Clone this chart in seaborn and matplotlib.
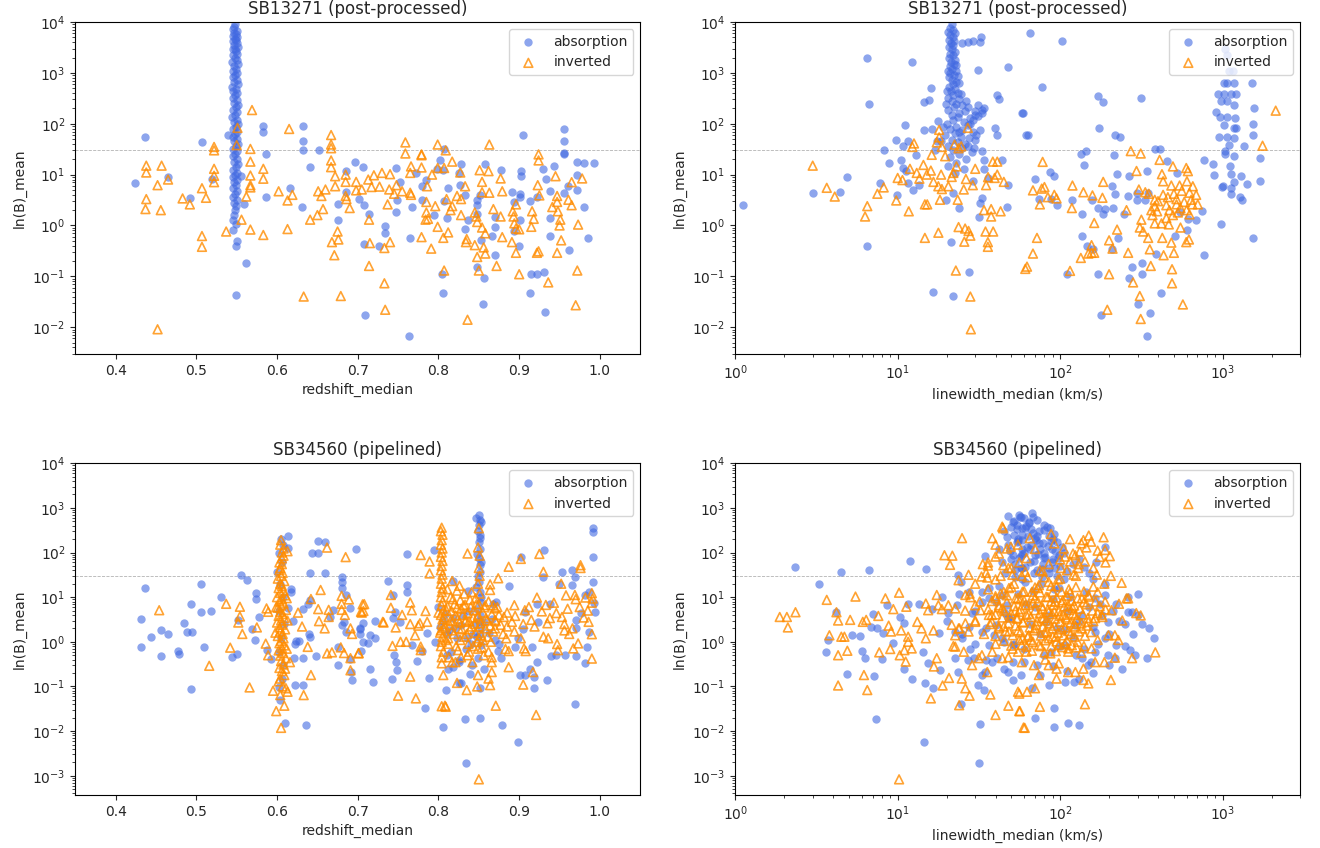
import numpy as np
import pandas as pd
import matplotlib
matplotlib.use("Agg")
import matplotlib.pyplot as plt
import seaborn as sns

# ---------------- SB13271 (post-processed): ln(B) vs redshift ----------------
sb13271_z_abs = [
    (0.436,55),(0.507,44),(0.424,6.9),(0.465,8.9),(0.492,3.5),(0.519,8.3),(0.539,59),(0.583,89),(0.583,70),
    (0.586,25),(0.555,9.4),(0.559,2.6),(0.586,3.7),(0.562,0.18),(0.549,0.042),(0.632,89),(0.632,45),(0.632,30),
    (0.652,31),(0.641,14),(0.616,5.4),(0.631,2.3),(0.675,2.6),(0.675,1.3),(0.685,12),(0.685,4.5),(0.696,18),
    (0.706,14),(0.701,3.3),(0.708,2.5),(0.708,0.43),(0.709,0.017),
    (0.905,60),(0.955,78),(0.955,45),(0.955,27),(0.955,26),(0.972,18),(0.980,17),(0.993,17),(0.972,9.8),
    (0.972,4.9),(0.980,2.3),(0.985,0.56),(0.962,0.33),(0.943,15),(0.933,8.3),(0.929,13),(0.938,4.7),(0.955,4.3),
    (0.961,5.9),(0.938,1.4),(0.938,0.61),(0.931,0.12),(0.922,0.11),(0.915,0.11),(0.932,0.020),(0.913,0.048),
    (0.902,12),(0.902,9.6),(0.891,4.6),(0.901,4.2),(0.901,3.6),(0.893,2.9),(0.914,3.0),(0.922,3.7),(0.893,0.77),
    (0.900,0.40),(0.901,1.3),(0.877,12.6),(0.870,1.5),(0.870,0.93),(0.866,0.62),(0.870,0.26),(0.858,16.5),
    (0.852,4.0),(0.848,3.2),(0.848,2.5),(0.848,1.7),(0.853,0.52),(0.856,0.093),(0.855,0.028),(0.848,0.15),
    (0.828,16),(0.826,11),(0.827,6.3),(0.833,4.0),(0.836,1.3),(0.833,0.87),(0.807,32),(0.802,19),(0.798,13),
    (0.806,12.6),(0.812,5.5),(0.807,3.0),(0.811,1.4),(0.804,0.11),(0.805,0.048),(0.785,8.0),(0.779,5.9),
    (0.779,3.1),(0.794,1.6),(0.767,2.3),(0.765,0.56),(0.763,0.0068),(0.752,7.2),(0.748,13.5),(0.749,3.2),
    (0.748,1.8),(0.734,0.98),(0.734,0.72),(0.726,0.40),(0.714,1.7),(0.772,10.8),
    # dense column near z = 0.548
    (0.548,9300),(0.547,8000),(0.546,7200),(0.550,6800),(0.547,6200),(0.549,5800),(0.545,5300),(0.551,5000),
    (0.548,4600),(0.549,4400),(0.546,4200),(0.550,3900),(0.547,3500),(0.552,3200),(0.548,3000),(0.545,2900),
    (0.549,2700),(0.551,2400),(0.546,2200),(0.548,2000),(0.550,1800),(0.544,1650),(0.552,1500),(0.547,1350),
    (0.549,1200),(0.545,1100),(0.551,1000),(0.548,900),(0.546,820),(0.550,740),(0.547,660),(0.552,600),
    (0.544,540),(0.549,490),(0.546,440),(0.551,400),(0.548,360),(0.545,320),(0.550,290),(0.547,260),
    (0.552,235),(0.549,210),(0.546,190),(0.551,170),(0.548,150),(0.544,135),(0.550,120),(0.547,108),
    (0.552,97),(0.549,87),(0.545,78),(0.551,70),(0.548,62),(0.546,56),(0.550,50),(0.547,45),(0.552,40),
    (0.549,36),(0.545,32),(0.551,29),(0.548,26),(0.546,23),(0.550,20),(0.547,18),(0.552,16),(0.549,14),
    (0.545,12.5),(0.551,11),(0.548,10),(0.546,9),(0.550,8),(0.547,7),(0.549,6.2),(0.545,5.5),(0.551,4.8),
    (0.548,4.2),(0.546,3.7),(0.550,3.2),(0.547,2.8),(0.549,2.4),(0.548,2.0),(0.547,1.6),(0.545,1.3),
    (0.549,1.05),(0.546,0.83),(0.550,0.49),(0.549,0.40),
]
sb13271_z_inv = [
    (0.438,15),(0.438,11),(0.457,15),(0.452,6.2),(0.465,8.0),(0.438,3.3),(0.437,2.1),(0.456,2.0),(0.483,3.4),
    (0.492,2.6),(0.507,5.4),(0.512,3.5),(0.522,35),(0.522,30),(0.522,13),(0.522,9.5),(0.522,7.1),(0.507,0.62),
    (0.507,0.38),(0.537,0.76),(0.551,83),(0.550,38),(0.569,186),(0.567,32),(0.567,18),(0.583,13),(0.583,8.3),
    (0.567,9.6),(0.567,6.2),(0.567,5.6),(0.562,3.7),(0.556,1.3),(0.567,0.83),(0.583,0.65),(0.613,0.85),
    (0.602,4.7),(0.619,4.0),(0.613,3.1),(0.615,79),(0.633,0.04),(0.667,60),(0.667,39),(0.667,33),(0.667,19),
    (0.667,14),(0.651,4.7),(0.655,3.8),(0.660,5.1),(0.657,2.1),(0.650,1.6),(0.641,1.3),(0.672,9.3),(0.672,5.9),
    (0.685,10),(0.685,7.2),(0.698,7.2),(0.698,4.9),(0.685,3.8),(0.686,3.3),(0.690,2.2),(0.675,0.76),
    (0.676,0.53),(0.668,0.47),(0.671,0.26),(0.679,0.041),(0.452,0.0091),
    (0.759,43),(0.759,26),(0.799,39),(0.809,30),(0.779,25),(0.779,24),(0.817,18),(0.863,39),(0.924,25),
    (0.924,19),(0.766,14.5),(0.779,13.8),(0.765,10.8),(0.799,13.5),(0.807,13.5),(0.792,10),(0.827,11),
    (0.851,12.2),(0.862,11.7),(0.877,8.4),(0.945,9.3),(0.978,8.4),(0.965,7.1),(0.730,10.8),(0.740,10.2),
    (0.720,9.7),(0.713,8.0),(0.705,5.1),(0.717,5.7),(0.727,5.8),(0.748,6.2),(0.739,5.1),(0.745,4.2),
    (0.755,4.7),(0.765,4.4),(0.766,4.0),(0.737,2.6),(0.714,1.3),(0.786,5.9),(0.785,2.9),(0.796,2.4),
    (0.785,1.8),(0.784,1.3),(0.787,1.35),(0.799,0.94),(0.779,0.59),(0.791,0.35),(0.806,0.57),(0.812,0.73),
    (0.807,0.13),(0.833,5.9),(0.823,3.8),(0.828,3.3),(0.817,2.4),(0.815,2.0),(0.810,3.3),(0.828,1.6),
    (0.854,7.2),(0.854,4.5),(0.863,4.4),(0.845,1.8),(0.847,1.5),(0.848,1.17),(0.854,0.91),(0.858,0.70),
    (0.835,0.54),(0.834,0.47),(0.845,0.41),(0.848,0.24),(0.856,0.37),(0.858,0.28),(0.850,0.13),(0.872,0.16),
    (0.836,0.014),(0.868,2.1),(0.877,1.5),(0.879,0.59),(0.891,0.47),(0.879,4.7),(0.892,1.9),(0.893,1.5),
    (0.894,1.1),(0.896,0.87),(0.900,0.84),(0.896,0.29),(0.900,0.11),(0.896,2.6),(0.923,6.2),(0.925,3.9),
    (0.916,1.9),(0.918,1.35),(0.915,0.94),(0.924,0.31),(0.922,0.29),(0.936,0.076),(0.947,3.8),(0.947,2.9),
    (0.941,2.3),(0.948,1.9),(0.951,1.3),(0.950,1.0),(0.952,0.51),(0.947,0.29),(0.961,3.2),(0.965,2.5),
    (0.973,1.04),(0.972,0.13),(0.970,0.027),(0.733,0.073),(0.734,0.022),(0.714,0.16),(0.715,0.45),
    (0.740,0.47),(0.733,0.36),
]

# ---------------- SB13271 (post-processed): ln(B) vs linewidth ----------------
sb13271_w_abs = [
    (1.12,2.5),(3.0,4.4),(4.4,4.5),(4.9,8.8),(6.5,1950),(6.7,245),(6.5,0.40),(8.2,31),(8.8,17),(7.8,6.9),
    (9.9,3.9),(9.7,47),(10.8,37),(11.6,45),(10.5,19.5),(10.8,13.5),(11.3,11.7),(11.6,6.9),(12.5,4.9),
    (11.1,96),(12.3,1660),(12.9,24.5),(13.6,6.2),(14.5,270),(15.6,295),(16.0,500),(14.6,76),(16.2,79),
    (17.6,112),(17.5,45),(17.0,31),(19.9,3.1),(22,4.4),(24,2.2),(21.3,0.47),(16.5,0.049),(22,0.041),
    (27.6,0.12),(25,3800),(27,4100),(29,4300),(32.6,5100),(32,4100),(31,1150),(48,1330),(41,360),(42,300),
    (31,235),(33,190),(32,76),(39.5,83),(41,60),(30,49),(33,29),(34,19),(44,19),(34,13),(36,8.7),(48,6.2),
    (33,3.5),(32,2.8),(31.5,1.5),(47,2.3),(59,165),(61.5,61),(29,7.5),
    # dense column near 21 km/s
    (21.5,9300),(21,7500),(22,7000),(20.5,6500),(22.5,6000),(21,5500),(21.8,5000),(20.8,4500),(22.3,4200),
    (21.2,3800),(22,3500),(20.6,3200),(21.6,2900),(22.6,2600),(21,2400),(21.9,2200),(20.7,2000),(22.4,1800),
    (21.3,1650),(22.1,1500),(20.9,1350),(21.7,1200),(22.8,1100),(21.1,1000),(22.2,900),(20.6,820),
    (21.5,740),(23,660),(21.8,600),(20.8,540),(22.5,490),(21.3,440),(23.5,400),(22,360),(20.5,320),
    (24,300),(21.6,280),(23,250),(25,230),(22.2,210),(20.3,190),(26,175),(24,160),(21.5,150),(23.5,135),
    (28,130),(22,120),(25.5,110),(20,100),(27,95),(23,88),(21,80),(25,75),(29,70),(22.5,65),(19.5,60),
    (24.5,56),(27.5,52),(21.5,48),(23.5,44),(26,40),(20.5,37),(25,34),(22,31),(28.5,28),(24,25),(21,22),
    (26.5,20),(23,17),(20.5,15),(25.5,13),(22.5,11),(30,180),(33,160),(31,140),(34,200),(29,120),
    (23,1400),(20.5,1100),(23.5,850),(24,620),(20.2,450),(24.5,380),(26.5,280),(19.8,250),(27,210),
    (30,150),(28,100),(19,85),(24,70),(30.5,60),(18.5,45),(27,36),(29.5,33),
    # right-hand scattered
    (65,6000),(102,4300),(77,540),(58,165),(63,61),(172,345),(184,270),(316,325),(173,83),(219,61),
    (233,55),(134,26),(144,29.5),(141,15.7),(215,24.5),(382,32),(410,32),(456,18.3),(523,10.8),(341,11.6),
    (264,9.6),(224,10.4),(87,11.3),(92,9.6),(70,8.3),(74,3.3),(88,3.3),(95,2.5),(119,3.1),(136,1.65),
    (158,3.2),(172,2.2),(184,1.7),(190,2.1),(212,2.2),(219,4.2),(207,6.1),(248,1.65),(260,3.8),(295,3.1),
    (331,3.1),(299,4.4),(347,4.4),(136,0.61),(146,0.40),(160,0.34),(172,0.11),(110,0.11),(178,0.017),
    (207,0.35),(227,0.57),(275,0.15),(264,0.094),(320,0.18),(320,0.11),(302,0.028),(356,0.019),(344,0.0068),
    (419,0.048),(387,0.27),(506,0.61),(605,0.83),(687,1.26),(743,1.9),(765,0.26),(765,19),(868,16.3),
    (880,10),(1000,6.1),(977,1.08),(543,1.8),(611,1.35),
    # cluster near 1000 km/s
    (1038,3000),(1064,2240),(1099,1070),(1151,1070),(1069,630),(1014,630),(1167,630),(940,390),(1023,390),
    (1125,390),(1208,390),(977,275),(1069,275),(1178,233),(910,173),(968,138),(1069,138),(1197,132),
    (1023,96),(1178,83),(1215,83),(955,55),(1069,55),(1178,52),(1089,39),(1358,37),(1040,29),(1040,25.7),
    (1167,23),(1114,15),(1125,10.5),(1294,9.3),(1180,7.2),(1403,6.4),(996,5.7),(1125,5.5),(1125,4.1),
    (1282,3.6),(1324,3.1),(1507,630),(1549,203),(1542,98),(1535,59),(1702,21.5),(1702,7.5),(1542,0.56),
]
sb13271_w_inv = [
    (3.0,15),(3.66,5.5),(4.1,3.7),(6.5,2.4),(6.3,1.5),(7.5,4.2),(8.2,5.6),(9.8,3.1),(10,8.6),(10.7,7.8),
    (11.7,1.9),(11.9,13),(12.6,41),(12.3,35),(13.1,10.8),(13.6,8.3),(14.4,15.5),(15.1,10),(15.2,2.6),
    (14.7,2.6),(14.7,0.57),(17.8,0.72),(16.6,7.2),(16.0,12),(16.2,24.5),(18,76),(18,54),(18.2,3.2),
    (17.8,5.9),(18.7,5.2),(18.5,10),(18.7,35),(17.4,43),(19.6,23),(20.5,5.9),(21.5,9),(22,10.8),(23,14.5),
    (22.4,39),(23.7,33),(24.6,36),(27,83),(26.3,8.2),(25.5,5.1),(23.4,3.2),(30,13),(29,6.2),(23.7,0.93),
    (26,0.87),(27.3,0.78),(28,0.63),(25.7,0.48),(22.8,0.13),(28,0.040),(28.2,0.0091),(34.7,0.76),
    (38.7,0.76),(35.9,0.47),(35.9,0.38),(34,2.0),(37.6,2.1),(37.6,1.5),(43,1.9),(35,6.2),(36,8.9),
    (39.5,8.6),(41,10),(38.5,18),(41,18),(45,7.2),(61,0.14),
    (78,17.8),(68,4.9),(77,5.3),(80,5.7),(84,3.6),(92,4.0),(95,3.4),(75,2.6),(72,0.57),(68,0.28),
    (62.5,0.155),(118,2.2),(119,6.1),(139,4.5),(158,3.9),(182,3.5),(184,7.2),(162,1.12),(224,0.83),
    (200,0.51),(210,0.35),(156,0.41),(156,0.29),(162,0.29),(149,0.28),(134,0.23),(115,0.128),(200,0.11),
    (195,0.022),(262,0.29),(281,0.076),(309,0.041),(313,0.0145),(272,29),(313,26),(295,11.8),(256,2.0),
    (305,5.1),(334,4.5),(351,4.2),(316,1.3),(309,0.91),(324,0.76),(348,0.57),(356,0.34),(361,0.16),
    (433,0.26),(425,0.57),(409,19.5),(423,10.2),(430,7.4),(382,3.2),(382,2.4),(364,2.0),(395,1.9),
    (382,1.1),(420,1.1),(450,1.4),(466,1.05),(494,14.5),(483,6.1),(501,4.2),(494,1.6),(530,1.8),(543,6.1),
    (550,0.91),(483,0.46),(501,0.29),(488,0.138),(488,0.073),(569,0.028),(597,13.5),(611,11.7),(603,7.4),
    (625,4.4),(655,5.9),(687,4.0),(703,2.6),(650,2.6),(625,1.65),(550,2.2),(597,0.47),(620,0.53),
    (1760,37),(2120,181),(400,3.0),(450,2.5),(520,3.3),(580,2.9),(470,2.0),(600,2.0),(640,3.2),(560,4.8),
    (430,4.0),(370,1.6),(460,3.6),(520,2.6),
]

# ---------------- SB34560 (pipelined): ln(B) vs redshift ----------------
sb34560_z_abs = [
    (0.436,16),(0.432,3.2),(0.432,0.76),(0.444,1.25),(0.456,1.8),(0.465,1.47),(0.456,0.47),(0.477,0.63),
    (0.479,0.53),(0.485,2.7),(0.488,1.7),(0.495,1.7),(0.494,7.0),(0.494,0.087),(0.506,20),(0.506,4.7),
    (0.518,5.0),(0.509,0.77),(0.531,10),(0.544,0.45),(0.551,0.53),(0.555,32),(0.563,24),(0.552,3.1),
    (0.569,1.9),(0.573,1.1),(0.574,12.2),(0.574,9.2),(0.578,3.6),(0.587,0.65),(0.593,0.42),(0.602,0.098),
    (0.610,0.015),(0.636,0.014),(0.613,233),(0.613,129),(0.617,15),(0.617,13),(0.614,5.6),(0.620,2.9),
    (0.622,0.91),(0.624,1.05),(0.627,1.05),(0.621,0.43),(0.622,0.11),(0.632,0.11),(0.632,0.43),(0.648,0.47),
    (0.632,5.4),(0.638,6.9),(0.641,8.7),(0.639,1.5),(0.641,1.3),(0.651,181),(0.660,175),(0.643,98),
    (0.651,98),(0.641,34),(0.660,35),(0.698,120),(0.680,29),(0.680,22),(0.680,16),(0.686,11),(0.690,5.6),
    (0.669,5.2),(0.666,3.6),(0.681,2.4),(0.683,2.8),(0.686,1.7),(0.703,2.0),(0.703,1.5),(0.707,1.0),
    (0.704,0.63),(0.676,0.77),(0.676,0.30),(0.692,0.21),(0.693,0.14),(0.691,0.42),(0.706,2.6),
    (0.605,200),(0.608,150),(0.603,100),(0.606,60),(0.600,37),(0.604,20),(0.607,10),(0.602,5),(0.609,2.5),
    (0.605,1.2),(0.603,0.6),(0.607,0.3),(0.606,0.15),(0.604,0.05),
    (0.761,93),(0.795,115),(0.737,23),(0.761,18.6),(0.761,13.2),(0.744,11.2),(0.721,2.9),(0.703,1.9),
    (0.713,0.92),(0.721,1.2),(0.715,1.4),(0.715,0.25),(0.719,0.126),(0.742,0.15),(0.745,0.50),(0.748,0.35),
    (0.749,0.23),(0.744,3.4),(0.746,4.7),(0.752,2.8),(0.767,0.85),(0.774,0.38),(0.779,0.61),(0.788,0.155),
    (0.783,0.033),(0.786,1.6),(0.796,1.0),(0.805,0.0125),(0.809,0.083),(0.818,23),(0.812,0.25),(0.818,0.27),
    (0.825,0.12),(0.828,0.12),(0.833,0.019),(0.834,0.0019),(0.851,0.020),(0.879,0.0135),(0.898,0.0057),
    (0.851,0.090),(0.839,0.19),(0.837,13.8),
    (0.850,690),(0.851,540),(0.850,420),(0.851,210),(0.850,175),(0.851,123),(0.850,74),(0.851,52),
    (0.852,37),(0.850,22),(0.852,13),(0.852,8),(0.851,4),(0.853,2),(0.853,0.85),(0.848,1.3),(0.849,0.43),
    (0.847,600),(0.853,480),(0.849,300),(0.852,250),(0.848,95),(0.853,62),(0.849,30),(0.847,17),(0.853,10),
    (0.848,5.5),(0.850,3.0),(0.852,1.5),
    (0.805,3),(0.81,1.5),(0.82,2),(0.83,4),(0.84,0.9),(0.815,0.6),(0.835,1.2),(0.845,2.5),(0.80,6),(0.825,0.4),
    (0.802,2.2),(0.808,4.2),(0.813,1.8),(0.818,3.5),(0.823,1.2),(0.828,2.4),(0.834,0.7),(0.838,4.8),
    (0.843,1.5),(0.857,2.8),(0.862,1.6),(0.866,3.3),(0.811,0.5),(0.826,0.35),(0.841,0.3),(0.856,0.25),
    (0.870,1.1),(0.875,0.9),
    (0.868,7.1),(0.871,7.6),(0.874,0.61),(0.877,0.43),(0.888,17.8),(0.902,81),(0.899,1.2),(0.895,0.78),
    (0.907,4.6),(0.905,1.9),(0.901,0.18),(0.907,0.18),(0.918,0.165),(0.918,0.094),(0.914,0.25),(0.922,0.35),
    (0.922,6.9),(0.923,2.8),(0.916,0.78),(0.931,115),(0.929,29),(0.934,0.14),(0.938,6.9),(0.940,0.47),
    (0.945,0.50),(0.949,20),(0.953,37),(0.965,40),(0.965,18.7),(0.969,29),(0.969,0.040),(0.957,0.50),
    (0.971,0.47),(0.982,0.33),(0.984,0.78),(0.971,3.1),(0.976,4.4),(0.971,2.0),(0.986,1.7),(0.991,360),
    (0.991,293),(0.991,81),(0.991,22),(0.993,7.3),(0.994,4.6),(0.982,11),(0.986,13.2),
]
sb34560_z_inv = [
    (0.454,5.1),(0.516,0.29),(0.537,7.1),(0.542,0.74),(0.554,6.1),(0.554,3.7),(0.552,2.7),(0.557,1.5),
    (0.575,2.1),(0.566,0.095),(0.587,5.6),(0.589,4.7),(0.586,0.91),(0.589,0.50),(0.595,0.080),(0.599,0.028),
    (0.605,0.0118),(0.609,0.037),(0.604,0.064),(0.613,0.076),(0.611,0.091),(0.602,0.13),(0.610,0.25),
    (0.616,0.35),(0.605,190),(0.608,123),(0.613,107),(0.606,74),(0.604,45),(0.626,4.5),(0.631,2.2),
    (0.638,0.77),(0.642,0.18),(0.633,0.064),(0.642,9.1),(0.654,14.5),(0.651,5.4),(0.652,2.9),(0.659,2.0),
    (0.662,129),(0.685,79),(0.664,5.2),(0.664,3.6),(0.662,0.55),(0.668,0.58),(0.680,10.7),(0.680,7.1),
    (0.680,5.2),(0.684,4.0),(0.679,0.75),(0.683,0.56),(0.689,8.9),(0.691,2.0),(0.693,1.5),(0.691,0.43),
    (0.691,0.23),(0.701,0.56),(0.706,6.9),(0.704,4.7),
    (0.603,40),(0.607,35),(0.605,30),(0.601,26),(0.609,23),(0.604,20),(0.606,18),(0.602,16),(0.608,14),
    (0.604,12.5),(0.610,11),(0.600,10),(0.606,9),(0.603,8),(0.608,7.2),(0.605,6.5),(0.601,5.8),(0.611,5.2),
    (0.604,4.7),(0.607,4.2),(0.602,3.8),(0.609,3.4),(0.605,3.0),(0.600,2.7),(0.606,2.4),(0.603,2.1),
    (0.610,1.9),(0.604,1.7),(0.607,1.5),(0.601,1.35),(0.608,1.2),(0.605,1.05),(0.603,0.93),(0.609,0.83),
    (0.606,0.73),(0.602,0.64),(0.607,0.56),(0.604,0.49),(0.611,0.43),(0.605,0.37),(0.608,0.31),(0.603,0.26),
    (0.606,0.22),(0.609,0.18),(0.604,0.15),(0.607,0.1),(0.603,60),(0.606,55),(0.612,9.5),(0.599,6),
    (0.613,3),(0.598,1.6),(0.612,0.7),(0.606,100),(0.604,150),(0.608,85),
    (0.778,88),(0.789,63),(0.789,34),(0.836,95),(0.817,23),(0.864,19.4),(0.864,14.5),(0.874,26.5),
    (0.887,48),(0.902,72),(0.925,93),(0.930,37),(0.976,52),(0.976,45),(0.952,20),(0.969,11.2),(0.982,9.8),
    (0.990,12.3),(0.991,9.3),(0.986,2.8),(0.990,1.48),(0.990,0.42),(0.973,0.92),(0.967,0.71),(0.966,2.0),
    (0.956,2.5),(0.956,1.8),(0.946,4.4),(0.938,3.4),(0.936,1.2),(0.947,0.89),(0.948,0.65),(0.930,1.3),
    (0.933,6.7),(0.922,9.8),(0.919,2.2),(0.915,3.1),(0.907,5.1),(0.902,1.2),(0.906,0.71),(0.908,0.62),
    (0.917,0.21),(0.905,0.11),(0.921,0.023),(0.894,6.6),(0.891,2.8),(0.894,1.7),(0.887,0.62),(0.885,2.2),
    (0.883,0.69),(0.887,0.27),(0.868,6.6),(0.870,5.6),(0.870,3.1),(0.866,0.35),(0.866,0.21),(0.862,0.15),
    (0.864,0.107),(0.871,0.037),(0.848,0.10),(0.849,0.18),(0.835,0.083),(0.823,0.12),(0.808,0.037),
    (0.804,0.036),(0.809,0.035),(0.806,0.18),(0.804,0.33),(0.850,0.00083),(0.821,0.35),(0.786,2.8),
    (0.784,4.9),(0.777,2.6),(0.775,2.3),(0.771,1.4),(0.765,2.5),(0.767,5.1),(0.765,7.6),(0.755,4.0),
    (0.753,1.0),(0.760,1.0),(0.743,0.81),(0.747,2.1),(0.741,5.8),(0.741,11.2),(0.731,2.8),(0.732,2.7),
    (0.708,7.0),(0.707,4.9),(0.705,4.5),(0.701,0.55),(0.750,0.062),(0.772,0.054),(0.765,0.166),(0.778,0.78),
    (0.778,0.65),
    (0.804,360),(0.803,300),(0.805,250),(0.804,190),(0.803,150),(0.805,123),(0.804,100),(0.803,80),
    (0.805,65),(0.804,50),(0.803,40),(0.805,32),(0.804,26),(0.803,20),(0.805,16),(0.804,13),(0.803,10),
    (0.805,8),(0.804,6.5),(0.806,5),(0.803,4),(0.805,3.2),(0.804,2.5),(0.806,2),(0.802,1.6),(0.805,1.3),
    (0.804,1),(0.803,0.8),(0.806,0.6),(0.804,0.45),
    (0.850,350),(0.849,130),(0.851,85),(0.850,45),(0.851,30),(0.849,20),(0.851,12),(0.850,7),(0.849,4),
    (0.851,2.2),(0.850,1.2),(0.849,0.7),
    (0.810,5),(0.815,3),(0.820,7),(0.825,2),(0.830,4),(0.835,1.5),(0.840,6),(0.845,2.5),(0.812,1.2),
    (0.818,9),(0.822,0.8),(0.828,5.5),(0.833,2.8),(0.838,0.6),(0.843,3.5),(0.848,1.0),(0.855,4.5),
    (0.858,2),(0.862,8),(0.856,0.5),(0.808,2.2),(0.813,0.45),(0.827,1.1),(0.832,12),(0.842,0.35),
    (0.847,7),(0.817,1.8),(0.824,3.3),(0.839,1.9),(0.853,1.4),(0.860,3),(0.865,1.0),(0.870,2.0),
    (0.875,4),(0.880,1.5),(0.811,15),(0.826,18),(0.841,13),
    (0.800,4.5),(0.807,3.6),(0.811,6.2),(0.814,2.4),(0.816,4.9),(0.819,1.5),(0.821,3.9),(0.823,5.8),
    (0.826,2.7),(0.829,1.9),(0.831,6.5),(0.834,3.1),(0.836,4.4),(0.837,0.9),(0.841,2.2),(0.844,5.1),
    (0.846,1.6),(0.849,3.7),(0.852,2.6),(0.854,0.75),(0.857,5.9),(0.859,3.4),(0.861,1.3),(0.864,2.3),
    (0.866,4.1),(0.868,1.7),(0.871,2.9),(0.812,0.9),(0.818,2.9),(0.824,0.65),(0.832,1.3),(0.838,2.9),
    (0.843,0.8),(0.855,1.1),(0.862,0.6),(0.803,1.8),(0.809,1.1),(0.827,8.5),(0.833,6.8),(0.846,9.5),
    (0.858,6.6),(0.815,10),(0.823,14),(0.839,8.8),(0.828,0.45),(0.817,0.35),(0.836,0.5),(0.866,0.45),
    (0.873,6),(0.877,2.4),(0.881,3.6),(0.884,1.2),
    (0.885,4.5),(0.895,3.8),(0.905,2.5),(0.912,6),(0.928,4.8),(0.935,2.6),(0.943,7.5),(0.953,3.6),
    (0.960,5.5),(0.962,1.5),(0.975,6),(0.980,3.5),(0.985,5),(0.990,7.5),(0.970,9),(0.958,11),
]

# ---------------- SB34560 (pipelined): ln(B) vs linewidth ----------------
sb34560_w_abs = [
    (2.35,48),(3.3,20),(4.5,37),(6.7,41),(11.9,65),(14.9,42),(4.2,4.7),(3.7,1.1),(3.6,0.58),(4.9,0.19),
    (5.2,1.4),(5.9,1.35),(6.0,0.63),(6.3,0.43),(6.9,2.2),(7.0,4.1),(7.5,2.0),(8.0,0.41),(7.1,0.17),
    (7.4,0.019),(8.6,6.6),(8.1,1.6),(9.4,0.92),(10.4,3.6),(11.0,2.7),(11.6,7.1),(10.9,0.25),(12.3,0.145),
    (13.6,7.1),(14.4,0.60),(14.7,0.12),(14.5,0.0058),(16.4,0.094),(15.4,0.34),(18.2,0.23),(18.0,1.55),
    (20.5,4.4),(23.5,0.21),(22.6,0.43),(24.6,0.041),(29.4,0.43),(31,0.107),(34,0.083),(32,0.0145),
    (31.5,0.0019),(34.4,85),(23.4,31.7),(24.5,21.5),(23.1,6.6),(18.7,10.2),(16.2,5.4),(22.6,1.7),(24.8,1.2),
    (27.3,13.2),(32.8,13.2),(28.7,4.4),(33.1,7.9),(36.4,9.4),(27.3,2.2),(30,0.91),(33.1,1.7),(36.4,0.85),
    (39,1.4),(44,1.2),(51,0.85),(51,0.36),(51,0.14),(57,0.18),(48,0.21),(51,490),(56.5,630),(54.6,345),
    (58.6,245),(54.6,175),(58.6,123),(51,87),(55.5,74),(57,44),(53,29),(36.4,15.8),(44,11.2),(47,6.6),
    (48,3.4),(40,2.4),(41,0.43),(34.7,0.21),(33.1,0.18),(27,0.39),
    (67,760),(57,630),(64,490),(61,347),(54,420),(79,320),(83,380),(70,210),(58,190),(62.5,134),(85,230),
    (89,123),(75,123),(70,87),(79,74),(189,134),(58,44),(69,34),(77,29),(61,22),(98,16),(160,26),(189,20),
    (189,11.2),(164,9.4),(262,4.7),(275,4.7),(302,4.0),(198,2.8),(164,1.7),(189,1.2),(222,0.85),(198,0.50),
    (217,0.43),(268,0.65),(290,0.50),(340,0.43),(239,0.25),(107,0.128),(121,0.128),(85,0.107),(67,0.091),
    (91,0.033),(70,0.020),(92,0.0125),(111,0.015),(131,0.0135),(107,0.85),(136,0.43),(149,0.30),(164,0.60),
    (124,2.4),
    (45,300),(48,150),(52,250),(60,100),(65,60),(72,40),(78,55),(85,45),(90,70),(95,30),(100,50),(105,25),
    (42,120),(50,70),(55,200),(62,400),(68,280),(74,160),(80,100),(88,180),(93,110),(98,90),(44,60),(46,35),
    (53,40),(58,95),(66,150),(72,230),
    (48,650),(52,520),(56,700),(60,580),(64,460),(68,620),(72,540),(50,380),(58,350),(66,330),(74,300),
    (80,420),(86,350),(92,260),(47,220),(55,180),(63,240),(71,190),(78,160),(84,140),(90,200),(96,170),
    (102,130),(49,110),(57,85),(65,120),(73,95),(81,80),(89,60),(97,75),(105,100),(53,55),(61,48),(69,65),
    (77,42),(85,35),(93,45),(110,38),(120,55),(130,70),(140,48),(150,35),(165,60),
    (20,3),(25,1.5),(30,5),(35,2),(40,8),(45,1),(50,3.5),(55,12),(60,0.7),(65,2.5),(70,6),(75,1.5),(80,0.5),
    (85,4),(90,9),(95,2),(100,0.8),(110,5),(120,1.3),(130,3),(140,0.7),(150,6),(160,2.2),(170,0.9),(180,4),
    (200,1.5),(220,7),(250,2.5),(24,12),(28,0.7),(38,0.35),(42,18),(46,4.5),(52,0.9),(58,25),(62,7),(68,14),
    (72,0.3),(76,20),(82,2.8),(88,0.6),(92,15),(105,1.8),(115,10),(125,0.5),(135,4),(145,13),(155,0.35),
    (175,7),
    (35,0.4),(45,0.25),(60,0.35),(75,0.18),(90,0.28),(110,0.22),(130,0.15),(160,0.2),(200,0.3),(250,0.8),
    (280,1.5),(320,2.5),(230,3),(210,5),(260,10),(300,12),(350,2.0),(380,1.2),
]
sb34560_w_inv = [
    (1.88,3.6),(2.08,3.6),(2.35,4.6),(2.11,2.1),(3.66,8.7),(4.2,4.6),(4.3,3.0),(3.8,1.4),(4.5,1.3),(4.7,1.3),
    (4.3,0.50),(4.9,0.63),(4.3,0.105),(5.5,10.3),(5.1,3.1),(6.1,2.8),(6.4,3.1),(6.2,0.18),(6.5,0.083),
    (7.6,3.8),(8.4,9.4),(7.7,0.58),(8.8,2.3),(9.1,1.7),(9.4,5.4),(9.0,0.69),(10.2,12.6),(10.5,1.8),
    (10.3,0.50),(10.2,0.00083),(11.3,6.1),(11.6,1.3),(11.6,1.0),(11.0,0.65),(12.2,0.71),(11.2,0.36),
    (13.2,2.8),(14.0,2.0),(14.9,7.2),(14.9,1.2),(15.4,5.1),(17.4,11.2),(17.8,6.6),(16.6,1.8),(16.7,0.28),
    (17.4,0.43),(16.0,0.054),(18.9,0.105),(20.7,0.155),(19.4,87),(21.7,85),(21.0,53),(24.9,210),(27.3,31.7),
    (23.7,24),(26.1,11.2),(27.7,12),(20.5,6.6),(18.7,5.4),(22.6,5.6),(21.5,2.4),(23.7,2.0),(26.1,2.6),
    (27.3,1.7),(30,2.8),(30,6.6),(32.3,5.1),(22.6,1.4),(22.6,0.78),(25.5,0.60),(24.8,0.15),(26.1,0.091),
    (23.9,0.038),(27.7,0.062),(28.7,0.30),(31.5,0.43),(35.6,0.21),(37.2,0.066),(40,0.023),(48,0.037),
    (56.5,0.028),(55,0.076),(59.5,0.012),(33.4,55),(35.9,51),(35.6,27.5),(32.8,29),(38.2,210),(40,81),
    (44,380),(44.5,350),(44.7,52),(47,123),(49.7,135),(50.8,31.7),(40,9.4),(44,5.6),(48.4,16),(53.2,9.4),
    (58.6,13.2),(36.4,4.0),(42,2.0),(48.4,1.7),(54.6,3.4),(58.6,1.2),(38.2,0.6),(44,0.43),
    (139,190),(155,175),(189,114),(202,83),(105,123),(107,81),(115,63),(124,87),(132,105),(142,63),(129,45),
    (121,32),(168,32),(187,20),(239,21),(256,9.4),(262,9.4),(230,7.1),(294,4.4),(313,3.9),(241,3.0),
    (189,7.9),(207,5.1),(180,4.0),(217,1.4),(228,1.1),(198,1.4),(170,1.1),(156,0.71),(164,0.35),(217,0.44),
    (187,0.35),(277,0.43),(385,0.58),(205,0.14),(139,0.25),(139,0.14),(149,0.117),(112,0.21),(124,0.21),
    (95,0.15),(98,0.33),(85,0.30),(74,0.18),(70,0.091),(62.5,0.076),(56,0.069),(75,0.035),(56,0.028),
    (60.5,0.0118),(142,0.040),(136,2.0),(149,2.8),(164,3.4),(124,4.0),(112,6.6),(136,9.4),(149,11.2),
    (102,13.2),(93,7.9),(85,4.7),(77,3.4),(70,2.0),(64,1.4),(58,0.85),(85,1.2),(98,0.85),(112,0.71),
    (61,6.6),(67,13.2),(74,18.6),(85,22),(61,37),(70,9.4),(56,4.7),
    (30,3),(32,8),(34,1.5),(36,15),(38,4),(40,0.9),(42,6),(45,2.2),(47,11),(49,3.5),(51,0.7),(53,5),
    (55,1.8),(57,9),(59,2.8),(62,0.6),(64,4.2),(66,1.1),(68,7.5),(71,2.4),(73,16),(76,0.8),(78,5.5),
    (80,1.6),(82,3),(84,10),(87,0.55),(89,2),(92,4.8),(94,1.3),(97,25),(99,3.8),(102,1.9),(104,8.5),
    (107,0.9),(110,3.2),(113,15),(116,1.5),(119,5.8),(122,2.5),(126,0.75),(33,0.5),(37,2.5),(43,12),
    (48,0.45),(52,20),(58,0.35),(63,28),(69,0.3),(75,40),(81,0.4),(88,18),(95,0.25),(101,45),(43,30),
    (50,45),(56,60),(40,25),(35,35),(30,20),(28,10),(26,5),(24,2),(22,0.8),
    # dense core
    (40,10.5),(55,9.6),(68,11),(82,10.2),(95,9.8),(110,10.8),(128,9.5),(150,10.3),
    (38,8.2),(47,7.8),(60,8.4),(73,7.9),(88,8.1),(102,7.6),(118,8.3),(140,7.7),(165,8.0),
    (42,6.6),(52,6.3),(64,6.8),(77,6.4),(91,6.7),(106,6.2),(122,6.5),(145,6.9),(175,6.3),
    (36,5.3),(45,5.0),(57,5.4),(70,5.1),(84,5.3),(98,4.9),(113,5.2),(132,5.5),(158,5.0),(190,5.3),
    (40,4.1),(50,4.3),(62,4.0),(75,4.4),(89,4.2),(104,4.0),(120,4.3),(138,4.1),(170,4.4),
    (44,3.5),(54,3.3),(66,3.6),(79,3.4),(93,3.3),(108,3.5),(126,3.2),(148,3.4),(182,3.6),
    (38,2.8),(48,2.6),(59,2.7),(72,2.9),(86,2.6),(100,2.8),(116,2.7),(135,2.6),(160,2.9),
    (42,2.2),(53,2.3),(65,2.1),(78,2.2),(92,2.3),(107,2.1),(124,2.2),(145,2.3),
    (46,1.75),(57,1.65),(69,1.8),(83,1.7),(97,1.6),(112,1.75),(130,1.7),(155,1.65),
    (40,1.35),(51,1.4),(63,1.3),(76,1.38),(90,1.32),(105,1.4),(122,1.3),(142,1.36),
    (45,1.05),(56,1.1),(68,1.0),(81,1.08),(95,1.02),(110,1.06),(128,1.0),
    (50,0.82),(62,0.78),(74,0.85),(88,0.8),(103,0.76),(118,0.84),(140,0.8),
    (55,0.6),(67,0.63),(80,0.58),(94,0.62),(112,0.6),(135,0.57),
    (45,13),(60,13.5),(75,12.8),(90,13.2),(115,12.6),(140,13.4),(170,12.9),
    (50,17),(70,16.5),(95,17.5),(125,16.8),(160,17.2),
    # upper spread
    (36,60),(42,95),(48,45),(55,150),(62,75),(70,120),(78,38),(85,55),(92,160),(100,70),(110,40),(120,95),
    (130,55),(145,130),(160,45),(175,80),(190,60),(205,30),(40,150),(65,210),(88,260),(115,200),(135,160),
    (150,240),(170,110),(185,220),(58,30),(80,28),(100,26),(125,30),
]

titles = ["SB13271 (post-processed)", "SB13271 (post-processed)",
          "SB34560 (pipelined)", "SB34560 (pipelined)"]
xlabels = ["redshift_median", "linewidth_median (km/s)",
           "redshift_median", "linewidth_median (km/s)"]
ylabel = "ln(B)_mean"
threshold = 30
top_yticks = [1e-2, 1e-1, 1e0, 1e1, 1e2, 1e3, 1e4]
bottom_yticks = [1e-3, 1e-2, 1e-1, 1e0, 1e1, 1e2, 1e3, 1e4]
logx_ticks = [1e0, 1e1, 1e2, 1e3]

sns.set_style("ticks")
plt.rcParams["font.family"] = ["DejaVu Sans"]

fig, axes = plt.subplots(2, 2, figsize=(13.2, 8.48), dpi=100)
plt.subplots_adjust(left=0.057, right=0.985, top=0.974, bottom=0.0625, wspace=0.168, hspace=0.33)

panels = [
    (axes[0, 0], sb13271_z_abs, sb13271_z_inv, False, (0.35, 1.05), (3e-3, 1e4), top_yticks),
    (axes[0, 1], sb13271_w_abs, sb13271_w_inv, True, (1, 3000), (3e-3, 1e4), top_yticks),
    (axes[1, 0], sb34560_z_abs, sb34560_z_inv, False, (0.35, 1.05), (3.7e-4, 1e4), bottom_yticks),
    (axes[1, 1], sb34560_w_abs, sb34560_w_inv, True, (1, 3000), (3.7e-4, 1e4), bottom_yticks),
]

for k, (ax, abs_pts, inv_pts, logx, xlim, ylim, yticks) in enumerate(panels):
    dfa = pd.DataFrame(abs_pts, columns=["x", "y"])
    dfi = pd.DataFrame(inv_pts, columns=["x", "y"])
    sns.scatterplot(data=dfa, x="x", y="y", ax=ax, color="royalblue", alpha=0.6,
                    s=36, linewidth=0, label="absorption")
    sns.scatterplot(data=dfi, x="x", y="y", ax=ax, marker="^", facecolors="none",
                    edgecolor="darkorange", linewidth=1.2, s=40, alpha=0.8, label="inverted")
    ax.set_yscale("log")
    ax.set_yticks(yticks)
    if logx:
        ax.set_xscale("log")
        ax.set_xticks(logx_ticks)
    ax.set_xlim(*xlim)
    ax.set_ylim(*ylim)
    ax.axhline(threshold, color="gray", ls="--", lw=0.6, alpha=0.6, zorder=0)
    ax.set_title(titles[k], fontsize=12)
    ax.set_xlabel(xlabels[k], fontsize=10)
    ax.set_ylabel(ylabel, fontsize=10)
    ax.legend(loc="upper right", fontsize=10)
    for sp in ax.spines.values():
        sp.set_visible(True)
        sp.set_color("black")
        sp.set_linewidth(0.8)

fig.savefig("out.png", dpi=100)
